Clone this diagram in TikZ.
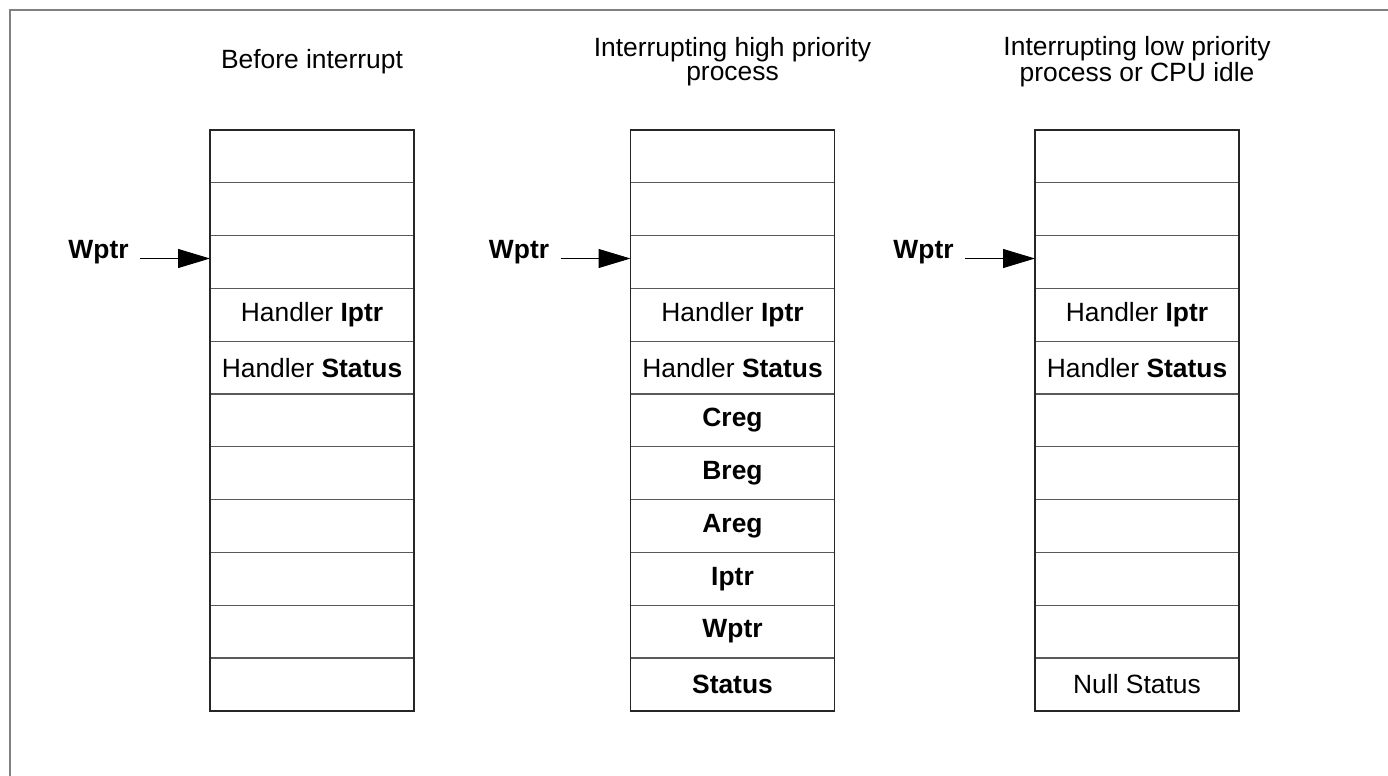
\documentclass[tikz,border=0pt]{standalone}
\usepackage{fontspec}
\setmainfont{Liberation Sans}
\usetikzlibrary{positioning,arrows.meta,calc}
\tikzstyle{cell} = [rectangle, draw=black!65, line width=0.6pt, minimum width=102pt, minimum height=26.4pt, inner sep=0pt, outer sep=0pt, anchor=north, text centered]
\tikzstyle{title} = [align=center, inner sep=0pt, anchor=center]
\tikzstyle{ptrlabel} = [font=\bfseries, inner sep=0pt, inner xsep=5.5pt, anchor=base east]
\tikzstyle{ptr} = [draw, line width=0.5pt, -{Triangle[length=16pt, width=9.5pt]}]
\tikzstyle{stack} = [draw=black!85, line width=0.9pt]
\begin{document}
\begin{tikzpicture}[x=0.5pt, y=-0.5pt, node distance=0pt]
    \fontsize{13.2}{12}\selectfont
    \useasboundingbox (0,0) rectangle (1388,776);
    \draw[black!50, line width=0.6pt] (10,776) -- (10,10) -- (1388,10);

    % before interrupt
    \node[cell] at (312,130) (a1) {};
    \node[cell, below=of a1] (a2) {};
    \node[cell, below=of a2] (a3) {};
    \node[cell, below=of a3] (a4) {Handler \textbf{Iptr}};
    \node[cell, below=of a4] (a5) {Handler \textbf{Status}};
    \node[cell, below=of a5] (a6) {};
    \node[cell, below=of a6] (a7) {};
    \node[cell, below=of a7] (a8) {};
    \node[cell, below=of a8] (a9) {};
    \node[cell, below=of a9] (a10) {};
    \node[cell, below=of a10] (a11) {};
    \draw[stack] (a1.north west) rectangle (a11.south east);
    \node[title] at ([yshift=34.2pt]a1.north) (ta) {Before interrupt};
    \node[ptrlabel] at ([xshift=-35pt, yshift=1.75pt]a3.west) (wa) {Wptr};
    \draw[ptr] (wa.base east) -- (a3.west |- wa.base);

    % interrupting high priority process
    \node[cell] at (732.5,130) (b1) {};
    \node[cell, below=of b1] (b2) {};
    \node[cell, below=of b2] (b3) {};
    \node[cell, below=of b3] (b4) {Handler \textbf{Iptr}};
    \node[cell, below=of b4] (b5) {Handler \textbf{Status}};
    \node[cell, below=of b5] (b6) {\textbf{Creg}};
    \node[cell, below=of b6] (b7) {\textbf{Breg}};
    \node[cell, below=of b7] (b8) {\textbf{Areg}};
    \node[cell, below=of b8] (b9) {\textbf{Iptr}};
    \node[cell, below=of b9] (b10) {\textbf{Wptr}};
    \node[cell, below=of b10] (b11) {\textbf{Status}};
    \draw[stack] (b1.north west) rectangle (b11.south east);
    \node[title] at ([yshift=34.2pt]b1.north) (tb) {Interrupting high priority\\process};
    \node[ptrlabel] at ([xshift=-35pt, yshift=1.75pt]b3.west) (wb) {Wptr};
    \draw[ptr] (wb.base east) -- (b3.west |- wb.base);

    % interrupting low priority process or idle
    \node[cell] at (1137,130) (c1) {};
    \node[cell, below=of c1] (c2) {};
    \node[cell, below=of c2] (c3) {};
    \node[cell, below=of c3] (c4) {Handler \textbf{Iptr}};
    \node[cell, below=of c4] (c5) {Handler \textbf{Status}};
    \node[cell, below=of c5] (c6) {};
    \node[cell, below=of c6] (c7) {};
    \node[cell, below=of c7] (c8) {};
    \node[cell, below=of c8] (c9) {};
    \node[cell, below=of c9] (c10) {};
    \node[cell, below=of c10] (c11) {Null Status};
    \draw[stack] (c1.north west) rectangle (c11.south east);
    \node[title] at ([yshift=34.2pt]c1.north) (tc) {Interrupting low priority\\process or CPU idle};
    \node[ptrlabel] at ([xshift=-35pt, yshift=1.75pt]c3.west) (wc) {Wptr};
    \draw[ptr] (wc.base east) -- (c3.west |- wc.base);
\end{tikzpicture}
\end{document}
